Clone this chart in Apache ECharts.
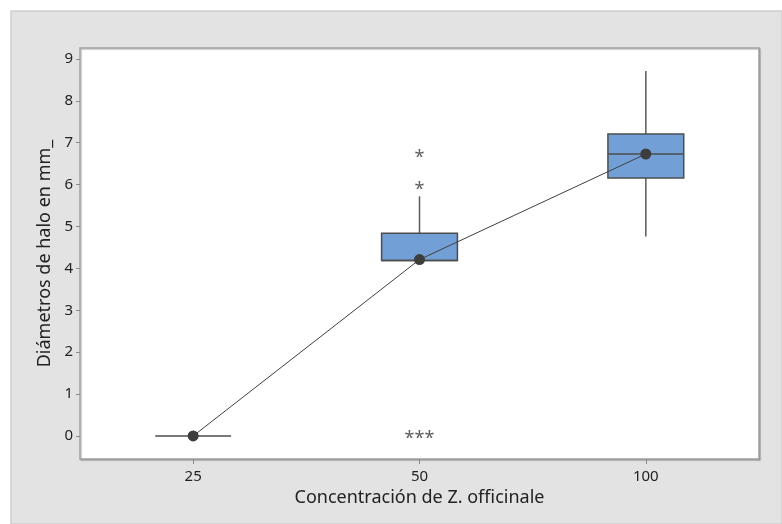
<!DOCTYPE html>
<html>
<head>
<meta charset="utf-8">
<script src="https://cdn.jsdelivr.net/npm/echarts@6/dist/echarts.min.js"></script>
<style>
  html, body { margin: 0; padding: 0; background: #ffffff; }
  #chart { width: 782px; height: 524px; }
</style>
</head>
<body>
<div id="chart"></div>
<script>
// Halo diameter (mm) by concentration of Z. officinale
const categories = ['25', '50', '100'];
// Box statistics per group
const whiskerLow = [0, 4.19, 4.76];
const q1Values = [0, 4.19, 6.16];
const medianValues = [0, 4.19, 6.73];
const q3Values = [0, 4.84, 7.21];
const whiskerHigh = [0, 5.72, 8.71];
// Group means, joined by the connecting line
const meanValues = [0, 4.21, 6.73];
// Outliers: group index and value
const outlierGroups = [1, 1, 1, 1, 1];
const outlierValues = [0, 0, 0, 5.95, 6.7];
// Y tick values
const yTicks = [0, 1, 2, 3, 4, 5, 6, 7, 8, 9];

const boxData = categories.map((c, i) => [i, whiskerLow[i], q1Values[i], medianValues[i], q3Values[i], whiskerHigh[i]]);

// Repeated outliers at the same spot are drawn as a row of asterisks
const outlierMap = {};
outlierGroups.forEach((g, i) => {
  const key = g + '|' + outlierValues[i];
  if (!outlierMap[key]) outlierMap[key] = { g: g, v: outlierValues[i], n: 0 };
  outlierMap[key].n += 1;
});
const outlierData = Object.values(outlierMap).map(o => ({ value: [o.g, o.v], count: o.n }));

const chart = echarts.init(document.getElementById('chart'), null, { renderer: 'canvas' });

const fontFamily = '"Segoe UI", "Noto Sans", "Open Sans", sans-serif';

function renderBox(params, api) {
  const idx = api.value(0);
  const lo = api.coord([idx, api.value(1)]);
  const q1 = api.coord([idx, api.value(2)]);
  const med = api.coord([idx, api.value(3)]);
  const q3 = api.coord([idx, api.value(4)]);
  const hi = api.coord([idx, api.value(5)]);
  const w = api.size([1, 0])[0] * 0.335;
  const x = lo[0];
  const children = [];
  const lineStyle = { stroke: '#5a5a5a', lineWidth: 1.5 };
  if (hi[1] < q3[1]) {
    children.push({ type: 'line', shape: { x1: x, y1: hi[1], x2: x, y2: q3[1] }, style: lineStyle });
  }
  if (lo[1] > q1[1]) {
    children.push({ type: 'line', shape: { x1: x, y1: q1[1], x2: x, y2: lo[1] }, style: lineStyle });
  }
  if (q1[1] - q3[1] > 0.5) {
    children.push({
      type: 'rect',
      shape: { x: x - w / 2, y: q3[1], width: w, height: q1[1] - q3[1] },
      style: { fill: '#72a0d6', stroke: '#4d4d4d', lineWidth: 1.5 }
    });
  }
  children.push({
    type: 'line',
    shape: { x1: x - w / 2, y1: med[1], x2: x + w / 2, y2: med[1] },
    style: { stroke: '#4d4d4d', lineWidth: 1.5 }
  });
  return { type: 'group', children: children };
}

chart.setOption({
  animation: false,
  backgroundColor: '#ffffff',
  graphic: [{
    type: 'rect',
    z: -10,
    silent: true,
    shape: { x: 11, y: 11, width: 782 - 11, height: 524 - 11 },
    style: { fill: '#e3e3e3', stroke: '#cfcfcf', lineWidth: 1.5 }
  }],
  grid: {
    left: 80, top: 48, width: 679, height: 411,
    show: true,
    backgroundColor: '#ffffff',
    borderColor: '#a3a3a3',
    borderWidth: 1.5,
    shadowColor: 'rgba(0,0,0,0.25)',
    shadowBlur: 1,
    shadowOffsetX: 1,
    shadowOffsetY: 1
  },
  xAxis: {
    type: 'category',
    data: categories,
    boundaryGap: true,
    name: 'Concentración de Z. officinale',
    nameLocation: 'middle',
    nameGap: 29,
    nameTextStyle: { fontSize: 18, color: '#222', fontFamily: fontFamily },
    axisLine: { show: false, onZero: false },
    axisTick: { show: true, alignWithLabel: true, length: 5, lineStyle: { color: '#8a8a8a' } },
    axisLabel: { fontSize: 15, color: '#222', margin: 10, fontFamily: fontFamily },
    splitLine: { show: false }
  },
  yAxis: {
    type: 'value',
    min: -0.55,
    max: 9.26,
    name: 'Diámetros de halo en mm_',
    nameLocation: 'middle',
    nameGap: 26,
    nameTextStyle: { fontSize: 18, color: '#222', fontFamily: fontFamily },
    axisLine: { show: false, onZero: false },
    axisTick: { show: true, length: 4, customValues: yTicks, lineStyle: { color: '#8a8a8a' } },
    axisLabel: { fontSize: 15, color: '#222', margin: 7, customValues: yTicks, fontFamily: fontFamily },
    splitLine: { show: false }
  },
  series: [
    {
      type: 'custom',
      renderItem: renderBox,
      encode: { x: 0, y: [1, 2, 3, 4, 5] },
      data: boxData,
      z: 2
    },
    {
      type: 'line',
      data: meanValues,
      symbol: 'circle',
      symbolSize: 11,
      itemStyle: { color: '#3d3d3d' },
      lineStyle: { color: '#404040', width: 1 },
      z: 3
    },
    {
      type: 'scatter',
      data: outlierData,
      symbolSize: 1,
      itemStyle: { color: 'rgba(0,0,0,0)' },
      label: {
        show: true,
        position: 'inside',
        offset: [0, 3],
        formatter: p => '*'.repeat(p.data.count),
        fontSize: 18,
        color: '#333',
        fontFamily: fontFamily
      },
      z: 4
    }
  ]
});
</script>
</body>
</html>
